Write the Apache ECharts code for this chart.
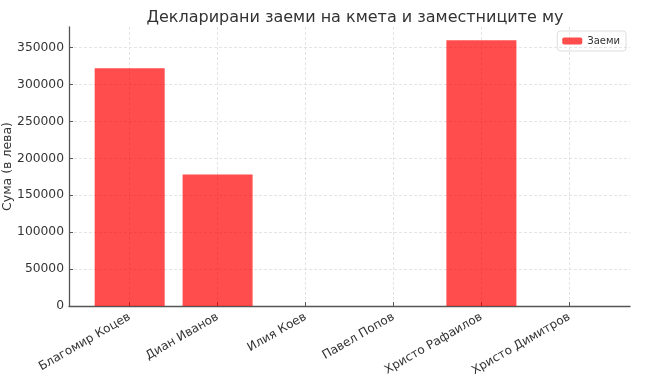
<!DOCTYPE html>
<html>
<head>
<meta charset="utf-8">
<script src="https://cdn.jsdelivr.net/npm/echarts@6/dist/echarts.min.js"></script>
<style>html,body{margin:0;padding:0;background:#fff}#c{width:645px;height:385px}</style>
</head>
<body>
<div id="c"></div>
<script>
const categories = ["Благомир Коцев", "Диан Иванов", "Илия Коев", "Павел Попов", "Христо Рафаилов", "Христо Димитров"];
const loans = [322000, 178000, 0, 0, 360000, 0];
const yTicks = [0, 50000, 100000, 150000, 200000, 250000, 300000, 350000];
const seriesName = "Заеми";
const titleText = "Декларирани заеми на кмета и заместниците му";
const yName = "Сума (в лева)";

const xIdx = categories.map((_, i) => i);
const chart = echarts.init(document.getElementById('c'), null, {renderer: 'canvas'});
const font = 'DejaVu Sans';
const gridLine = {show: true, lineStyle: {color: '#dddddd', type: [3, 2], width: 0.8}};
chart.setOption({
  animation: false,
  textStyle: {fontFamily: font},
  title: {text: titleText, left: 350, top: 5, textAlign: 'center',
    textStyle: {fontFamily: font, fontSize: 16, fontWeight: 'normal', color: '#333'}},
  legend: {data: [seriesName], right: 19, top: 31, orient: 'vertical',
    itemWidth: 20, itemHeight: 7, itemGap: 4,
    borderColor: '#dddddd', borderWidth: 1, borderRadius: 3, padding: [5, 6, 5, 5],
    textStyle: {fontFamily: font, fontSize: 10, color: '#333'}},
  grid: {left: 69, right: 15, top: 27, bottom: 79, outerBoundsMode: 'none', containLabel: false},
  xAxis: {type: 'value', min: -0.69, max: 5.69,
    axisLine: {show: true, onZero: false, lineStyle: {color: '#555', width: 1.3}},
    axisTick: {show: true, inside: true, length: 4, customValues: xIdx, lineStyle: {color: '#555'}},
    axisLabel: {customValues: xIdx, rotate: 30, fontFamily: font, fontSize: 12, color: '#333', margin: 10,
      formatter: v => categories[Math.round(v)]},
    splitLine: gridLine},
  yAxis: {type: 'value', min: 0, max: 378000,
    name: yName, nameLocation: 'middle', nameGap: 55, nameMoveOverlap: false,
    nameTextStyle: {fontFamily: font, fontSize: 12.5, color: '#333'},
    axisLine: {show: true, onZero: false, lineStyle: {color: '#555', width: 1.3}},
    axisTick: {show: true, inside: true, length: 4, customValues: yTicks, lineStyle: {color: '#555'}},
    axisLabel: {customValues: yTicks, fontFamily: font, fontSize: 12.3, color: '#333', margin: 5, formatter: v => String(v)},
    splitLine: gridLine},
  series: [{name: seriesName, type: 'bar', barWidth: 70,
    itemStyle: {color: 'rgba(255,0,0,0.7)'},
    data: loans.map((v, i) => [i, v])}]
});
</script>
</body>
</html>
